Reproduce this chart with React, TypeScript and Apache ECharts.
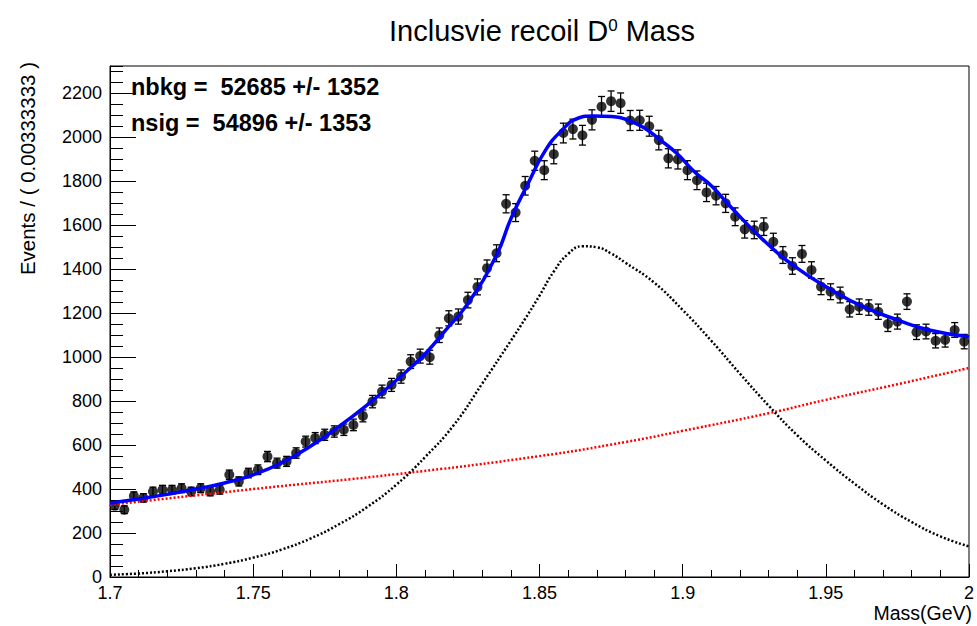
import React, { useEffect, useRef } from "react";
import * as echarts from "echarts";

// ---- data ----
const xRange = [1.7, 2.0];
const nBins = 90;
const counts = [
  325, 306, 368, 360, 389, 397, 397, 404, 389, 404,
  389, 397, 465, 435, 473, 488, 548, 518, 526, 564,
  616, 632, 647, 662, 670, 692, 733, 798, 844, 874,
  912, 980, 1005, 1000, 1100, 1177, 1185, 1260, 1320, 1405,
  1473, 1698, 1658, 1780, 1894, 1851, 1924, 2020, 2038, 2010,
  2080, 2140, 2165, 2156, 2077, 2078, 2051, 1988, 1905, 1900,
  1851, 1805, 1750, 1735, 1700, 1639, 1582, 1579, 1594, 1525,
  1465, 1415, 1470, 1397, 1321, 1298, 1283, 1218, 1230, 1226,
  1207, 1151, 1162, 1253, 1114, 1117, 1075, 1079, 1124, 1071,
];

// total fit curve (mass, events)
const totalCurve: [number, number][] = [
  [1.7, 337], [1.71, 355], [1.72, 376], [1.73, 400], [1.74, 428], [1.75, 465],
  [1.76, 520], [1.77, 595], [1.78, 685], [1.79, 785], [1.8, 895], [1.81, 1015],
  [1.817, 1120], [1.825, 1245], [1.835, 1465], [1.84, 1630], [1.846, 1790],
  [1.852, 1940], [1.858, 2035], [1.863, 2085], [1.869, 2098], [1.875, 2095],
  [1.881, 2078], [1.887, 2040], [1.892, 1990], [1.898, 1927], [1.904, 1845],
  [1.91, 1780], [1.916, 1695], [1.928, 1535], [1.94, 1405], [1.952, 1306],
  [1.963, 1230], [1.975, 1170], [1.986, 1124], [2.0, 1093],
];

// signal component
const sigCurve: [number, number][] = [
  [1.7, 10], [1.71, 16], [1.72, 26], [1.73, 40], [1.74, 60], [1.75, 88],
  [1.76, 125], [1.77, 175], [1.78, 240], [1.79, 320], [1.8, 420], [1.81, 545],
  [1.82, 690], [1.83, 880], [1.84, 1075], [1.845, 1175], [1.85, 1280],
  [1.855, 1390], [1.86, 1470], [1.865, 1505], [1.87, 1500], [1.875, 1472],
  [1.88, 1430], [1.89, 1340], [1.9, 1215], [1.91, 1075], [1.92, 925],
  [1.93, 780], [1.94, 645], [1.95, 530], [1.96, 425], [1.97, 330],
  [1.98, 250], [1.99, 185], [2.0, 139],
];

// background component
const bkgCurve: [number, number][] = [
  [1.7, 328], [1.75, 400], [1.8, 468], [1.85, 550], [1.88, 614],
  [1.9, 665], [1.93, 745], [1.95, 806], [1.975, 877], [2.0, 951],
];

const yMajorTicks = [0, 200, 400, 600, 800, 1000, 1200, 1400, 1600, 1800, 2000, 2200];
const xTickLabels = ["1.7", "1.75", "1.8", "1.85", "1.9", "1.95", "2"];

const titleText = "Inclusvie recoil D";
const statLines = ["nbkg =\u00a0 52685 +/- 1352", "nsig =\u00a0 54896 +/- 1353"];

const FONT = "'Liberation Sans', Arial, Helvetica, sans-serif";

export default function App() {
  const ref = useRef<HTMLDivElement>(null);

  useEffect(() => {
    if (!ref.current) return;
    const chart = echarts.init(ref.current, null, { renderer: "svg" });
    const binW = (xRange[1] - xRange[0]) / nBins;
    const points = counts.map((v, i) => [xRange[0] + (i + 0.5) * binW, v, Math.sqrt(v)]);

    const option: any = {
      animation: false,
      backgroundColor: "#fff",
      textStyle: { fontFamily: FONT },
      grid: {
        left: 110,
        right: 4,
        top: 66,
        bottom: 49,
        show: true,
        borderColor: "#000",
        borderWidth: 1,
        backgroundColor: "transparent",
      },
      xAxis: {
        type: "value",
        min: xRange[0],
        max: xRange[1],
        interval: 0.05,
        axisLine: { show: true, onZero: false, lineStyle: { color: "#000", width: 1 } },
        axisTick: { show: true, inside: true, length: 13, lineStyle: { color: "#000", width: 1 } },
        minorTick: { show: true, splitNumber: 5, length: 7, lineStyle: { color: "#000", width: 1 } },
        splitLine: { show: false },
        axisLabel: {
          color: "#000",
          fontSize: 18,
          fontFamily: FONT,
          margin: 7,
          formatter: (v: number) => {
            const idx = Math.round((v - xRange[0]) / 0.05);
            return xTickLabels[idx] ?? "";
          },
        },
      },
      yAxis: [
        {
          type: "value",
          min: 0,
          max: 2325,
          interval: 200,
          axisLine: { show: true, onZero: false, lineStyle: { color: "#000", width: 1 } },
          axisTick: { show: true, inside: true, length: 26, lineStyle: { color: "#000", width: 1 } },
          splitLine: { show: false },
          axisLabel: {
            color: "#000",
            fontSize: 18,
            fontFamily: FONT,
            margin: 8,
            showMaxLabel: false,
            formatter: (v: number) => (yMajorTicks.includes(Math.round(v)) ? String(Math.round(v)) : ""),
          },
        },
        {
          type: "value",
          min: 0,
          max: 2325,
          interval: 50,
          position: "left",
          axisLine: { show: false },
          axisTick: { show: true, inside: true, length: 13, lineStyle: { color: "#000", width: 1 } },
          splitLine: { show: false },
          axisLabel: { show: false },
        },
      ],
      series: [
        {
          type: "custom",
          data: points,
          z: 3,
          renderItem: (params: any, api: any) => {
            const x = api.value(0);
            const y = api.value(1);
            const e = api.value(2);
            const top = api.coord([x, y + e]);
            const bot = api.coord([x, y - e]);
            const cx = top[0];
            const st = { stroke: "#000", lineWidth: 1.3 };
            return {
              type: "group",
              children: [
                { type: "line", shape: { x1: cx, y1: top[1], x2: cx, y2: bot[1] }, style: st },
                { type: "line", shape: { x1: cx - 3.5, y1: top[1], x2: cx + 3.5, y2: top[1] }, style: st },
                { type: "line", shape: { x1: cx - 3.5, y1: bot[1], x2: cx + 3.5, y2: bot[1] }, style: st },
              ],
            };
          },
        },
        {
          type: "scatter",
          data: points.map((p) => [p[0], p[1]]),
          symbol: "circle",
          symbolSize: 10,
          itemStyle: { color: "#000" },
          z: 4,
        },
        {
          type: "line",
          data: bkgCurve,
          smooth: true,
          showSymbol: false,
          lineStyle: { color: "#ff0000", width: 2.5, type: [2, 2] },
          z: 5,
        },
        {
          type: "line",
          data: sigCurve,
          smooth: true,
          showSymbol: false,
          lineStyle: { color: "#000", width: 2.5, type: [2, 2] },
          z: 5,
        },
        {
          type: "line",
          data: totalCurve,
          smooth: true,
          showSymbol: false,
          lineStyle: { color: "#0000ff", width: 3.5 },
          z: 6,
        },
      ],
      graphic: [
        {
          type: "text",
          x: 542,
          y: 31,
          style: {
            text: `{a|${titleText}}{s|0}{a| Mass}`,
            align: "center",
            verticalAlign: "middle",
            fill: "#000",
            rich: {
              a: { fontSize: 29, fontFamily: FONT, fill: "#000" },
              s: { fontSize: 17, fontFamily: FONT, fill: "#000", verticalAlign: "top" },
            },
          },
        },
        {
          type: "text",
          x: 131,
          y: 87,
          style: {
            text: statLines[0],
            font: `bold 23.5px ${FONT}`,
            fill: "#000",
            align: "left",
            verticalAlign: "middle",
          },
        },
        {
          type: "text",
          x: 131,
          y: 123,
          style: {
            text: statLines[1],
            font: `bold 23.5px ${FONT}`,
            fill: "#000",
            align: "left",
            verticalAlign: "middle",
          },
        },
        {
          type: "text",
          x: 972,
          y: 613,
          style: {
            text: "Mass(GeV)",
            font: `19.5px ${FONT}`,
            fill: "#000",
            align: "right",
            verticalAlign: "middle",
          },
        },
        {
          type: "text",
          x: 27,
          y: 62,
          rotation: Math.PI / 2,
          style: {
            text: "Events / ( 0.00333333 )",
            font: `20.5px ${FONT}`,
            fill: "#000",
            align: "right",
            verticalAlign: "middle",
          },
        },
      ],
    };

    chart.setOption(option);
    return () => chart.dispose();
  }, []);

  return (
    <div
      ref={ref}
      style={{ position: "absolute", left: 0, top: 0, width: 977, height: 626, background: "#fff" }}
    />
  );
}
